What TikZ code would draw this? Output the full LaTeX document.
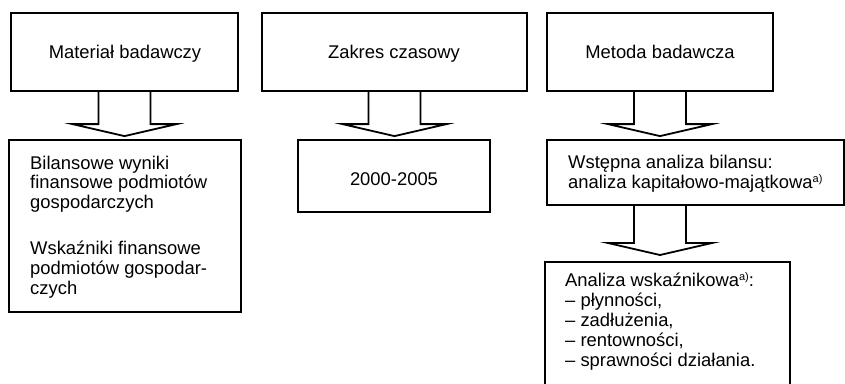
\documentclass[tikz,border=0pt]{standalone}
\usepackage{fontspec}
\setmainfont{Liberation Sans}
\usetikzlibrary{calc}
\newcommand{\supa}{\raisebox{6.5pt}{\fontsize{11}{11}\selectfont a)}}
\begin{document}
\begin{tikzpicture}[x=1pt,y=-1pt,
  every node/.style={font=\fontsize{18.4}{19.8}\selectfont},
  box/.style={draw, line width=1.8pt, inner sep=0pt},
  txt/.style={inner sep=0pt, align=left, anchor=base west},
  ctxt/.style={inner sep=0pt, anchor=base},
  blk/.style={draw, line width=1.8pt, line join=miter}]
\useasboundingbox (0,0) rectangle (845,383);
\clip (0,0) rectangle (845,383);
% top row
\node[box, minimum width=227pt, minimum height=78pt] (m1) at (124.5,52) {};
\node[ctxt] (tm1) at (125,58) {Materiał badawczy};
\node[box, minimum width=265pt, minimum height=78pt] (m2) at (394.5,52) {};
\node[ctxt] (tm2) at (394,58) {Zakres czasowy};
\node[box, minimum width=226pt, minimum height=78pt] (m3) at (660,52) {};
\node[ctxt] (tm3) at (660,58) {Metoda badawcza};
% second row (anchor = baseline of the last line)
\node[box, minimum width=232pt, minimum height=172pt] (b1) at (125,226) {};
\node[txt] (tb1) at (30,294) {Bilansowe wyniki\\finansowe podmiotów\\gospodarczych\\[26pt]Wskaźniki finansowe\\podmiotów gospodar-\\czych};
\node[box, minimum width=192pt, minimum height=72pt] (b2) at (394,176) {};
\node[ctxt] (tb2) at (394,185) {2000-2005};
\node[box, minimum width=297pt, minimum height=65pt] (b3) at (695.5,172.5) {};
\node[txt] (tb3) at (568,188.5) {Wstępna analiza bilansu:\\analiza kapitałowo-majątkowa\supa};
% third box (open at bottom)
\draw[blk] (545,400) -- (545,262) -- (790,262) -- (790,400);
\coordinate (c3) at (667.5,262);
\node[txt] (tc3) at (565,366) {Analiza wskaźnikowa\supa:\\– płynności,\\– zadłużenia,\\– rentowności,\\– sprawności działania.};
% block arrows
\coordinate (s1) at (m1.south);
\coordinate (s2) at (m2.south);
\coordinate (s3) at (m3.south);
\coordinate (s4) at (m3.south |- b3.south);
\foreach \p/\q/\g in {s1/b1.north/3, s2/b2.north/3, s3/b3.north/3, s4/c3/7}{
  \draw[blk] ($(\p)+(-26,0)$) -- ($(\p|-\q)+(-26,-12-\g)$) -- ($(\p|-\q)+(-52,-12-\g)$)
    -- ($(\p|-\q)+(0,-\g)$) -- ($(\p|-\q)+(52,-12-\g)$) -- ($(\p|-\q)+(26,-12-\g)$)
    -- ($(\p)+(26,0)$);
}
\end{tikzpicture}
\end{document}
